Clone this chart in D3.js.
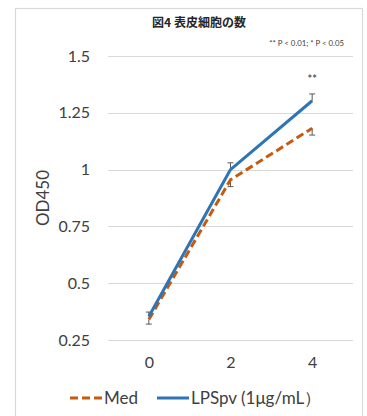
<!DOCTYPE html>
<html>
<head>
<meta charset="utf-8">
<script src="https://cdn.jsdelivr.net/npm/d3@7"></script>
<style>
  html, body { margin: 0; padding: 0; background: #fff; }
  svg { display: block; }
</style>
</head>
<body>
<svg id="chart" width="367" height="416"></svg>
<script>
// Time points (days) on the category axis
const timePoints = ["0", "2", "4"];
// Mean OD450 per series
const medValues = [0.34, 0.955, 1.182];
const lpsValues = [0.353, 1.0, 1.303];
// Error bar half-widths
const medErrors = [0.02, 0.03, 0.03];
const lpsErrors = [0.02, 0.03, 0.03];
// Y tick values and labels
const yTicks = [0.25, 0.5, 0.75, 1, 1.25, 1.5];
const yTickLabels = ["0.25", "0.5", "0.75", "1", "1.25", "1.5"];
// Significance marks per time point
const sigMarks = ["", "", "**"];

const latin = "Lato, Calibri, 'Open Sans', sans-serif";
const cjk = "'Noto Sans CJK JP', sans-serif";

const svg = d3.select("#chart");

// Chart frame
svg.append("rect")
  .attr("x", 15.5).attr("y", 8.5)
  .attr("width", 347).attr("height", 420)
  .attr("fill", "#fff").attr("stroke", "#D9D9D9").attr("stroke-width", 1.2);

const x = d3.scalePoint().domain(timePoints).range([108, 353]).padding(0.5);
const y = d3.scaleLinear().domain([0.25, 1.5]).range([340, 56]);

// Horizontal gridlines
svg.append("g").selectAll("line").data(yTicks).join("line")
  .attr("x1", 108).attr("x2", 353)
  .attr("y1", d => Math.round(y(d)) + 0.5).attr("y2", d => Math.round(y(d)) + 0.5)
  .attr("stroke", "#D9D9D9").attr("stroke-width", 1);

// Y axis labels
const yAxis = d3.axisLeft(y).tickValues(yTicks)
  .tickFormat((d, i) => yTickLabels[i]).tickSize(0).tickPadding(0);
const yg = svg.append("g").attr("transform", "translate(90,0)").call(yAxis);
yg.select(".domain").remove();
yg.selectAll("text").attr("font-family", latin).attr("font-size", 16)
  .attr("fill", "#404040");

// X axis labels
const xAxis = d3.axisBottom(x).tickSize(0).tickPadding(0);
const xg = svg.append("g").attr("transform", "translate(0,357)").call(xAxis);
xg.select(".domain").remove();
xg.selectAll("text").attr("font-family", latin).attr("font-size", 16)
  .attr("fill", "#404040");

// Y axis title
svg.append("text")
  .attr("transform", "translate(49,198) rotate(-90)")
  .attr("text-anchor", "middle")
  .attr("font-family", latin).attr("font-size", 17).attr("fill", "#404040")
  .text("OD450");

// Chart title
svg.append("text")
  .attr("x", 199).attr("y", 27)
  .attr("text-anchor", "middle")
  .attr("font-family", cjk).attr("font-size", 12).attr("font-weight", "bold")
  .attr("fill", "#262626")
  .text("図4 表皮細胞の数");

// Significance legend
svg.append("text")
  .attr("x", 344).attr("y", 46)
  .attr("text-anchor", "end")
  .attr("font-family", latin).attr("font-size", 7.8).attr("fill", "#404040")
  .text("** P < 0.01; * P < 0.05");

const medColor = "#C55A11";
const lpsColor = "#2E75B6";
const errColor = "#595959";

// Error bars: Med downward, LPSpv upward
function errorBars(values, errors, dir) {
  const g = svg.append("g").attr("stroke", errColor).attr("stroke-width", 1);
  timePoints.forEach((t, i) => {
    const cx = x(t);
    const y0 = y(values[i]);
    const y1 = y(values[i] + dir * errors[i]);
    g.append("line").attr("x1", cx).attr("x2", cx).attr("y1", y0).attr("y2", y1);
    g.append("line").attr("x1", cx - 3).attr("x2", cx + 3).attr("y1", y1).attr("y2", y1);
  });
}
errorBars(medValues, medErrors, -1);
errorBars(lpsValues, lpsErrors, 1);

const line = d3.line().x(d => x(d[0])).y(d => y(d[1]));

// Med series (dashed)
svg.append("path")
  .datum(timePoints.map((t, i) => [t, medValues[i]]))
  .attr("d", line)
  .attr("fill", "none").attr("stroke", medColor).attr("stroke-width", 3)
  .attr("stroke-dasharray", "8,4");

// LPSpv series
svg.append("path")
  .datum(timePoints.map((t, i) => [t, lpsValues[i]]))
  .attr("d", line)
  .attr("fill", "none").attr("stroke", lpsColor).attr("stroke-width", 3)
  .attr("stroke-linejoin", "round");

// Significance asterisks above the upper error bar
svg.append("g").selectAll("text").data(sigMarks).join("text")
  .attr("x", (d, i) => x(timePoints[i]))
  .attr("y", (d, i) => y(lpsValues[i] + lpsErrors[i]) - 11)
  .attr("text-anchor", "middle")
  .attr("font-family", latin).attr("font-size", 11).attr("font-weight", "bold")
  .attr("fill", "#595959")
  .text(d => d);

// Legend
const legend = svg.append("g").attr("transform", "translate(0,398)");
legend.append("line").attr("x1", 70).attr("x2", 102).attr("y1", 0).attr("y2", 0)
  .attr("stroke", medColor).attr("stroke-width", 3).attr("stroke-dasharray", "8,4");
legend.append("text").attr("x", 104).attr("y", 6)
  .attr("font-family", latin).attr("font-size", 17).attr("fill", "#404040")
  .text("Med");
legend.append("line").attr("x1", 157).attr("x2", 189).attr("y1", 0).attr("y2", 0)
  .attr("stroke", lpsColor).attr("stroke-width", 3);
legend.append("text").attr("x", 191).attr("y", 6)
  .attr("font-family", latin).attr("font-size", 17).attr("fill", "#404040")
  .text("LPSpv (1μg/mL）");
</script>
</body>
</html>
